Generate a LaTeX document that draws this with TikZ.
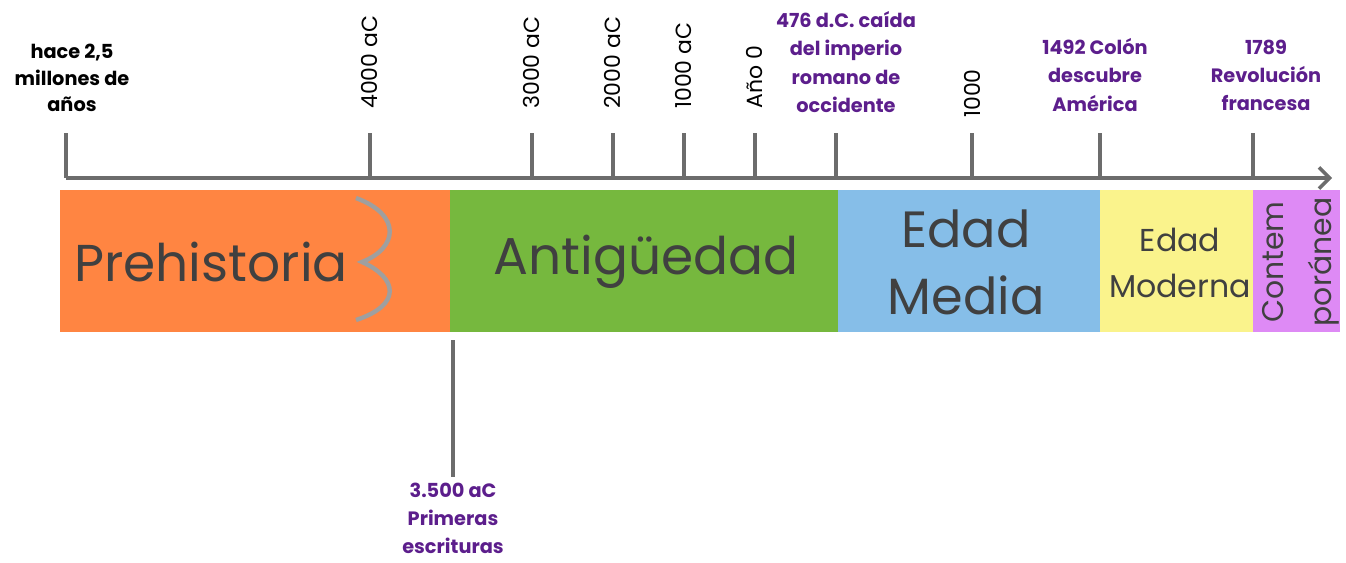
\documentclass[tikz,border=0pt]{standalone}
\usepackage{fontspec}
\setmainfont{Poppins}
\usetikzlibrary{arrows.meta}
\definecolor{prehist}{RGB}{255,133,66}
\definecolor{antig}{RGB}{118,184,62}
\definecolor{media}{RGB}{134,190,232}
\definecolor{moderna}{RGB}{250,243,140}
\definecolor{contemp}{RGB}{222,138,245}
\definecolor{event}{RGB}{92,30,140}
\definecolor{bartext}{RGB}{64,64,64}
\tikzset{
  axisline/.style={draw=gray!85!black, line width=2pt},
  datelabel/.style={rotate=90, anchor=west, inner sep=0pt, font=\fontsize{12.5}{15}\selectfont},
  eventlabel/.style={align=center, text=event, font=\bfseries\fontsize{11}{16}\selectfont},
  periodname/.style={text=bartext, align=center},
}
\begin{document}
\begin{tikzpicture}[x=0.02cm,y=-0.02cm]
    \useasboundingbox (0,0) rectangle (1346,562);
    % periods
    \fill[prehist](60,190)rectangle(450,332);
    \fill[antig](450,190)rectangle(838,332);
    \fill[media](838,190)rectangle(1100,332);
    \fill[moderna](1100,190)rectangle(1253,332);
    \fill[contemp](1253,190)rectangle(1340,332);
    \draw[gray!75, line width=2.5pt](356,198)..controls(402,215)and(398,248)..(362,262)
        ..controls(398,278)and(402,305)..(356,320);
    \node[periodname, font=\fontsize{29.5}{34}\selectfont](pre)at(211,262){Prehistoria};
    \node[periodname, font=\fontsize{29.5}{34}\selectfont](ant)at(646,262){Antigüedad};
    \node[periodname, font=\fontsize{29}{38}\selectfont](med)at(966,262){Edad\\Media};
    \node[periodname, font=\fontsize{18}{26}\selectfont](mod)at(1180,263){Edad\\Moderna};
    \node[periodname, rotate=90, font=\fontsize{17}{27}\selectfont](con)at(1301,262){Contem\\poránea};
    % axis
    \coordinate(start)at(66,178);
    \coordinate(end)at(1332,178);
    \draw[axisline,-{Straight Barb[length=6pt,width=12pt]}](start)--(end);
    \foreach \name/\x in {a/66,b/370,c/532,d/613,e/684,f/755,g/836,h/972,i/1100,j/1253}{
        \coordinate(\name top)at(\x,133);
        \coordinate(\name bot)at(\x,178);
        \draw[axisline](\name top)--(\name bot);
    }
    \coordinate(writtop)at(453,340);
    \coordinate(writbot)at(453,477);
    \draw[axisline](writtop)--(writbot);
    % labels
    \node[align=center, font=\bfseries\fontsize{11}{15}\selectfont](start text)at(72,78){hace 2,5\\millones de\\años};
    \node[datelabel](l4000)at(370,109){4000 aC};
    \node[datelabel](l3000)at(532,109){3000 aC};
    \node[datelabel](l2000)at(613,109){2000 aC};
    \node[datelabel](l1000)at(684,109){1000 aC};
    \node[datelabel](lzero)at(755,109){Año 0};
    \node[datelabel](lmil)at(972,118){1000};
    \node[eventlabel](roma)at(846,62){476 d.C. caída\\del imperio\\romano de\\occidente};
    \node[eventlabel](colon)at(1095,75){1492 Colón\\descubre\\América};
    \node[eventlabel](revol)at(1266,75){1789\\Revolución\\francesa};
    \node[eventlabel, below](escr)at(writbot){3.500 aC\\Primeras\\escrituras};
\end{tikzpicture}
\end{document}
